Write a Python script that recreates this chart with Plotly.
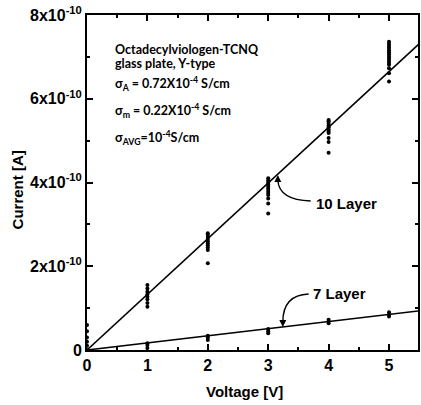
import plotly.graph_objects as go

# ---- data (current in A, voltage in V) ----
v10 = [0]*6 + [1]*8 + [2]*10 + [3]*12 + [4]*11 + [5]*15
i10_e10 = [0, 0.1, 0.2, 0.3, 0.45, 0.6,
           1.03, 1.12, 1.21, 1.27, 1.33, 1.39, 1.47, 1.55,
           2.07, 2.39, 2.45, 2.5, 2.55, 2.6, 2.65, 2.7, 2.75, 2.79,
           3.26, 3.5, 3.62, 3.7, 3.75, 3.8, 3.85, 3.9, 3.95, 4.0, 4.05, 4.1,
           4.71, 4.97, 5.06, 5.18, 5.22, 5.27, 5.32, 5.37, 5.42, 5.46, 5.49,
           6.41, 6.61, 6.73, 6.81, 6.86, 6.91, 6.96, 7.01, 7.06, 7.11, 7.16, 7.21, 7.26, 7.31, 7.36]
v7 = [1]*3 + [2]*3 + [3]*3 + [4]*3 + [5]*3
i7_e10 = [0.05, 0.12, 0.16, 0.24, 0.3, 0.34, 0.4, 0.45, 0.5, 0.64, 0.68, 0.72, 0.8, 0.85, 0.9]
slope10 = 1.33e-10
slope7 = 0.17e-10
fit_v = [0, 5.6]
ytick_vals = [0, 2e-10, 4e-10, 6e-10, 8e-10]
ytick_text = ["0", "2x10<sup>-10</sup>", "4x10<sup>-10</sup>", "6x10<sup>-10</sup>", "8x10<sup>-10</sup>"]
xtick_vals = [0, 1, 2, 3, 4, 5]

i10 = [x * 1e-10 for x in i10_e10]
i7 = [x * 1e-10 for x in i7_e10]

fig = go.Figure()
fig.add_trace(go.Scatter(x=fit_v, y=[slope10 * v for v in fit_v], mode="lines",
                         line=dict(color="black", width=1.6), showlegend=False))
fig.add_trace(go.Scatter(x=fit_v, y=[slope7 * v for v in fit_v], mode="lines",
                         line=dict(color="black", width=1.6), showlegend=False))
fig.add_trace(go.Scatter(x=v10, y=i10, mode="markers",
                         marker=dict(color="black", size=4), showlegend=False))
fig.add_trace(go.Scatter(x=v7, y=i7, mode="markers",
                         marker=dict(color="black", size=4), showlegend=False))

L, R, T, B = 87, 420, 15, 350
def px(x): return (x - L) / (R - L)
def py(y): return (B - y) / (B - T)

tickfont = dict(family="Liberation Sans, Arial", size=16, color="black", weight="bold")
fig.update_layout(
    width=421, height=405,
    margin=dict(l=L, r=421 - R, t=T, b=405 - B),
    paper_bgcolor="white", plot_bgcolor="white",
    xaxis=dict(range=[0, 5.48], tickvals=xtick_vals, ticks="inside", ticklen=6, tickwidth=1.5,
               tickcolor="black", showline=True, linecolor="black", linewidth=2, mirror="ticks",
               showgrid=False, zeroline=False, tickfont=tickfont,
               minor=dict(dtick=0.5, tick0=0, ticks="inside", ticklen=3, tickcolor="black")),
    yaxis=dict(range=[0, 8e-10], tickvals=ytick_vals, ticktext=ytick_text, ticks="inside", ticklen=6,
               tickwidth=1.5, tickcolor="black", showline=True, linecolor="black", linewidth=2,
               mirror="ticks", showgrid=False, zeroline=False, tickfont=tickfont,
               minor=dict(dtick=1e-10, tick0=0, ticks="inside", ticklen=3, tickcolor="black")),
)

txtfont = dict(family="Lato, Open Sans, sans-serif", size=12.5, color="black", weight="bold")
lines = [
    (50, "Octadecylviologen-TCNQ"),
    (63, "glass plate, Y-type"),
    (83, "σ<sub>A</sub> = 0.72X10<sup>-4</sup> S/cm"),
    (110, "σ<sub>m</sub> = 0.22X10<sup>-4</sup> S/cm"),
    (137, "σ<sub>AVG</sub>=10<sup>-4</sup>S/cm"),
]
for y, t in lines:
    fig.add_annotation(x=px(113), y=py(y), xref="paper", yref="paper", text=t, showarrow=False,
                       xanchor="left", yanchor="middle", font=txtfont)

lblfont = dict(family="Liberation Sans, Arial", size=15, color="black", weight="bold")
fig.add_annotation(x=px(315), y=py(203), xref="paper", yref="paper", text="10 Layer",
                   showarrow=False, xanchor="left", yanchor="middle", font=lblfont)
fig.add_annotation(x=px(312), y=py(293), xref="paper", yref="paper", text="7 Layer",
                   showarrow=False, xanchor="left", yanchor="middle", font=lblfont)

# curved leader lines
fig.add_shape(type="path", xref="paper", yref="paper",
              path=f"M {px(312)},{py(201)} Q {px(280)},{py(200)} {px(279)},{py(180)}",
              line=dict(color="black", width=1.4))
fig.add_shape(type="path", xref="paper", yref="paper",
              path=f"M {px(310)},{py(294)} Q {px(284)},{py(295)} {px(284)},{py(322)}",
              line=dict(color="black", width=1.4))
# arrowheads
fig.add_annotation(x=px(279), y=py(175), xref="paper", yref="paper", text="", showarrow=True,
                   ax=0, ay=8, arrowhead=2, arrowsize=1, arrowwidth=1.4, arrowcolor="black")
fig.add_annotation(x=px(284), y=py(327), xref="paper", yref="paper", text="", showarrow=True,
                   ax=0, ay=-8, arrowhead=2, arrowsize=1, arrowwidth=1.4, arrowcolor="black")

# axis titles
fig.add_annotation(x=px(245), y=py(391), xref="paper", yref="paper", text="<b>Voltage [V]</b>",
                   showarrow=False, xanchor="center", yanchor="middle",
                   font=dict(family="Liberation Sans, Arial", size=15, color="black"))
fig.add_annotation(x=px(18), y=py(190), xref="paper", yref="paper", text="<b>Current [A]</b>",
                   showarrow=False, textangle=-90, xanchor="center", yanchor="middle",
                   font=dict(family="Liberation Sans, Arial", size=15, color="black"))

fig.write_html("out.html")
